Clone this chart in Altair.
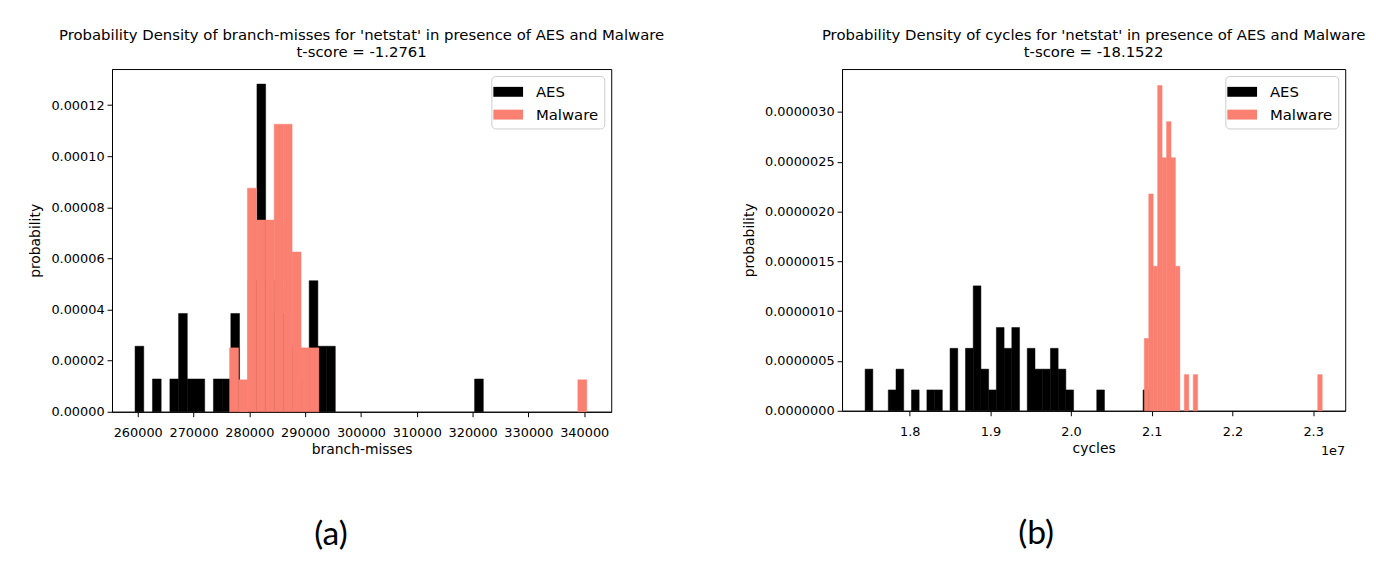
import altair as alt
import pandas as pd

# ---------------- data (histogram bin counts) ----------------
N_SAMPLES = 50

# panel (a): branch-misses
A_AES_START = 259520
A_AES_WIDTH = 1560
A_AES_COUNTS = [2, 0, 1, 0, 1, 3, 1, 1, 0, 1, 1, 3, 0, 4, 10, 4, 3, 3, 2, 1,
                4, 2, 2, 0, 0, 0, 0, 0, 0, 0, 0, 0, 0, 0, 0, 0, 0, 0, 0, 1]
A_MAL_START = 276460
A_MAL_WIDTH = 1600
A_MAL_COUNTS = [2, 1, 7, 6, 6, 9, 9, 5, 2, 2, 0, 0, 0, 0, 0, 0, 0, 0, 0, 0,
                0, 0, 0, 0, 0, 0, 0, 0, 0, 0, 0, 0, 0, 0, 0, 0, 0, 0, 0, 1]

# panel (b): cycles
B_AES_START = 17447200
B_AES_WIDTH = 95700
B_AES_COUNTS = [2, 0, 0, 1, 2, 0, 1, 0, 1, 1, 0, 3, 0, 3, 6, 2, 1, 4, 3, 4,
                0, 3, 2, 2, 3, 2, 1, 0, 0, 0, 1, 0, 0, 0, 0, 0, 1]
B_MAL_START = 20907900
B_MAL_WIDTH = 55120
B_MAL_COUNTS = [2, 6, 4, 9, 7, 8, 7, 4, 0, 1, 0, 1, 0, 0, 0, 0, 0, 0, 0, 0,
                0, 0, 0, 0, 0, 0, 0, 0, 0, 0, 0, 0, 0, 0, 0, 0, 0, 0, 0, 1]

SERIES = ["AES", "Malware"]
COLORS = ["#000000", "#fa8072"]

A_X_DOMAIN = [255390, 344840]
A_Y_DOMAIN = [0, 0.0001341]
A_X_TICKS = [260000, 270000, 280000, 290000, 300000, 310000, 320000, 330000, 340000]
A_Y_TICKS = [0, 0.00002, 0.00004, 0.00006, 0.00008, 0.0001, 0.00012]

B_X_DOMAIN = [17160900, 23398000]
B_Y_DOMAIN = [0, 0.000003431]
B_X_TICKS = [18000000, 19000000, 20000000, 21000000, 22000000, 23000000]
B_Y_TICKS = [0, 0.0000005, 0.000001, 0.0000015, 0.000002, 0.0000025, 0.000003]

FONT = "DejaVu Sans"


def hist_df(start, width, counts, series):
    rows = []
    for i, c in enumerate(counts):
        if c > 0:
            rows.append({"x0": start + i * width, "x1": start + (i + 1) * width,
                         "density": c / (N_SAMPLES * width), "series": series})
    return pd.DataFrame(rows)


color_scale = alt.Scale(domain=SERIES, range=COLORS)
color_legend = alt.Legend(
    title=None, orient="top-right", offset=7,
    fillColor="white", strokeColor="#cccccc", cornerRadius=4,
    padding=6, symbolType="M-1.5,-0.5H1.5V0.5H-1.5Z", symbolSize=400,
    symbolStrokeWidth=0, symbolOpacity=1, symbolOffset=1,
    labelFont=FONT, labelFontSize=15, labelColor="black", labelOffset=18,
    rowPadding=5,
)
color_enc = alt.Color("series:N", scale=color_scale, legend=color_legend)
stroke_enc = alt.Stroke("series:N", scale=color_scale, legend=None)


def panel(aes_df, mal_df, xdom, ydom, xticks, yticks, yfmt, xlabel_expr, xtitle,
          title_lines, w, h, tag, tag_x, extra_label=None):
    xs = alt.Scale(domain=xdom, nice=False, zero=False)
    ys = alt.Scale(domain=ydom, nice=False, zero=True)
    xaxis = alt.Axis(values=xticks, title=xtitle, grid=False, tickSize=5,
                     labelFont=FONT, labelFontSize=13, labelColor="black",
                     tickColor="black", domainColor="black", labelPadding=10,
                     titleFont=FONT, titleFontSize=14, titleFontWeight="normal",
                     titleColor="black", titlePadding=3, labelFlush=False,
                     **({"labelExpr": xlabel_expr} if xlabel_expr else {"format": "d"}))
    yaxis = alt.Axis(values=yticks, format=yfmt, title="probability", grid=False,
                     tickSize=5, labelFont=FONT, labelFontSize=13, labelColor="black",
                     tickColor="black", domainColor="black", labelPadding=3,
                     titleFont=FONT, titleFontSize=14, titleFontWeight="normal",
                     titleColor="black", titlePadding=8)
    aes = alt.Chart(aes_df).mark_bar(strokeWidth=0.5).encode(
        x=alt.X("x0:Q", scale=xs, axis=xaxis), x2="x1:Q",
        y=alt.Y("density:Q", scale=ys, axis=yaxis), y2=alt.datum(0),
        color=color_enc, stroke=stroke_enc)
    mal = alt.Chart(mal_df).mark_bar(strokeWidth=0.5).encode(
        x=alt.X("x0:Q", scale=xs, axis=xaxis), x2="x1:Q",
        y=alt.Y("density:Q", scale=ys, axis=yaxis), y2=alt.datum(0),
        color=color_enc, stroke=stroke_enc)
    tag_chart = alt.Chart(pd.DataFrame({"t": [tag]})).mark_text(
        font="Lato", fontSize=34, color="black", baseline="middle", align="center"
    ).encode(text="t:N", x=alt.value(tag_x), y=alt.value(h + 125))
    layers = [aes, mal, tag_chart]
    if extra_label:
        layers.append(alt.Chart(pd.DataFrame({"t": [extra_label]})).mark_text(
            font=FONT, fontSize=13, color="black", baseline="middle", align="right"
        ).encode(text="t:N", x=alt.value(w), y=alt.value(h + 41)))
    return alt.layer(*layers).properties(
        width=w, height=h,
        title=alt.TitleParams(text=title_lines, font=FONT, fontSize=15,
                              fontWeight="normal", color="black", anchor="middle",
                              offset=9, lineHeight=17))


chart_a = panel(hist_df(A_AES_START, A_AES_WIDTH, A_AES_COUNTS, "AES"),
                hist_df(A_MAL_START, A_MAL_WIDTH, A_MAL_COUNTS, "Malware"),
                A_X_DOMAIN, A_Y_DOMAIN, A_X_TICKS, A_Y_TICKS, ".5f", None,
                "branch-misses",
                ["Probability Density of branch-misses for 'netstat' in presence of AES and Malware",
                 "t-score = -1.2761"], 504, 346, "(a)", 221)

chart_b = panel(hist_df(B_AES_START, B_AES_WIDTH, B_AES_COUNTS, "AES"),
                hist_df(B_MAL_START, B_MAL_WIDTH, B_MAL_COUNTS, "Malware"),
                B_X_DOMAIN, B_Y_DOMAIN, B_X_TICKS, B_Y_TICKS, ".7f",
                "format(datum.value / 1e7, '.1f')", "cycles",
                ["Probability Density of cycles for 'netstat' in presence of AES and Malware",
                 "t-score = -18.1522"], 508, 345, "(b)", 196, extra_label="1e7")

chart = alt.hconcat(chart_a, chart_b, spacing=233, bounds="flush").resolve_legend(
    color="independent"
).configure(
    padding={"left": 20, "top": 17, "right": 0, "bottom": 0},
    background="white",
).configure_view(stroke="black", strokeWidth=1)

chart.save("out.html", embed_options={"renderer": "svg", "actions": False})
